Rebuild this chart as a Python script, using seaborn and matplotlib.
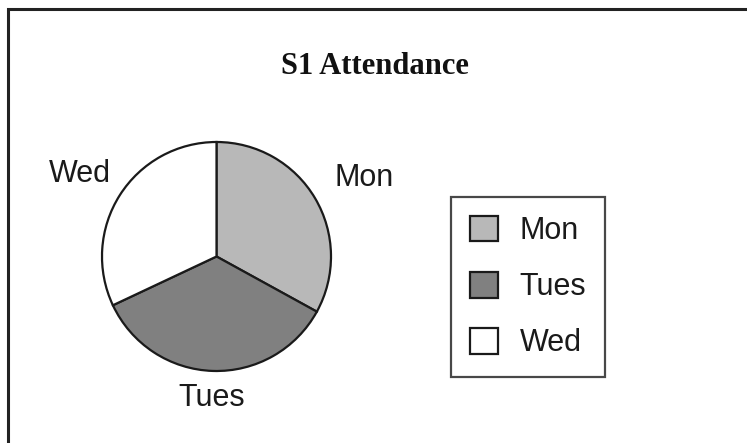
import numpy as np
import matplotlib
matplotlib.use("Agg")
import matplotlib.pyplot as plt
import matplotlib.patches as mpatches
import matplotlib.transforms as mtransforms
import seaborn as sns

days = ["Mon", "Tues", "Wed"]
attendance = [33, 35, 32]
colors = ["#b8b8b8", "#808080", "#ffffff"]
label_dist = [1.47, 1.21, 1.41]
label_turn = [-1.8, 0.0, 0.5]

sns.set_style("white")
plt.rcParams["font.family"] = ["Liberation Sans", "DejaVu Sans"]

W, H = 747, 443
fig = plt.figure(figsize=(W / 100, H / 100), dpi=100)

# outer border
fig.patches.append(mpatches.Rectangle((8 / W, -0.1), 1.2, (H - 9) / H + 0.1,
                                      transform=fig.transFigure, fill=False,
                                      edgecolor="#222222", linewidth=2.2))

cx, cy, r = 216.5, 256.5, 114.5
half = 1.25 * r
ax = fig.add_axes([(cx - half) / W, (H - cy - half) / H, 2 * half / W, 2 * half / H])
wedges, _ = ax.pie(attendance, colors=colors, startangle=90, counterclock=False,
                   wedgeprops=dict(edgecolor="#1a1a1a", linewidth=1.6))
ax.set_xlim(-1.25, 1.25)
ax.set_ylim(-1.25, 1.25)
ax.set_aspect("equal")

shift = mtransforms.offset_copy(ax.transData, fig=fig, x=0, y=-3, units="dots")
for w, lab, d, t in zip(wedges, days, label_dist, label_turn):
    ang = np.deg2rad((w.theta1 + w.theta2) / 2 + t)
    ax.text(d * np.cos(ang), d * np.sin(ang), lab, ha="center", va="center",
            fontsize=22, color="#1a1a1a", clip_on=False, transform=shift)

fig.text(375 / W, 1 - 66 / H, "S1 Attendance", ha="center", va="center",
         fontsize=22, fontweight="bold", family=["Liberation Serif", "DejaVu Serif"],
         color="#111111")

leg = fig.legend(wedges, days, loc="center", bbox_to_anchor=(528 / W, 1 - 287 / H),
                 fontsize=22, frameon=True, fancybox=False, edgecolor="#1a1a1a",
                 handlelength=0.92, handleheight=0.92, labelspacing=0.84,
                 handletextpad=0.72, borderpad=0.6, borderaxespad=0)
leg.get_frame().set_linewidth(1.6)
for t in leg.get_texts():
    t.set_color("#1a1a1a")

fig.savefig("out.png", dpi=100)
